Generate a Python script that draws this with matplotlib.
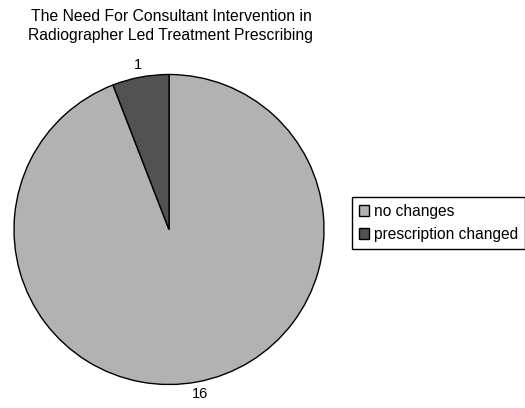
import matplotlib.pyplot as plt

plt.rcParams["font.family"] = ["Liberation Sans", "DejaVu Sans"]

categories = ["no changes", "prescription changed"]
counts = [16, 1]
colors = ["#b2b2b2", "#525252"]

fig = plt.figure(figsize=(5.25, 4.08), dpi=100)
ax = fig.add_axes([(169 - 155) / 525, (408 - 384.5) / 408, 310 / 525, 310 / 408])

wedges, texts = ax.pie(counts, colors=colors, startangle=90, counterclock=False,
                       labels=[str(c) for c in counts], labeldistance=1.08,
                       wedgeprops={"edgecolor": "black", "linewidth": 1.0},
                       textprops={"fontsize": 10.5})
for t in texts:
    t.set_ha("center")
    t.set_va("center")
ax.set_xlim(-1, 1)
ax.set_ylim(-1, 1)
ax.set_aspect("equal")

fig.text(171 / 525, 1 - 9 / 408,
         "The Need For Consultant Intervention in\nRadiographer Led Treatment Prescribing",
         ha="center", va="top", fontsize=11.3, linespacing=1.3)

leg = fig.legend(wedges, categories, loc="upper left",
                 bbox_to_anchor=(352 / 525, 1 - 197 / 408),
                 fontsize=11.2, frameon=True, fancybox=False, framealpha=1,
                 edgecolor="black", handlelength=0.65, handleheight=0.65,
                 handletextpad=0.3, borderpad=0.45, labelspacing=0.5,
                 borderaxespad=0)
leg.get_frame().set_linewidth(1.0)

fig.savefig("out.png", dpi=100)
